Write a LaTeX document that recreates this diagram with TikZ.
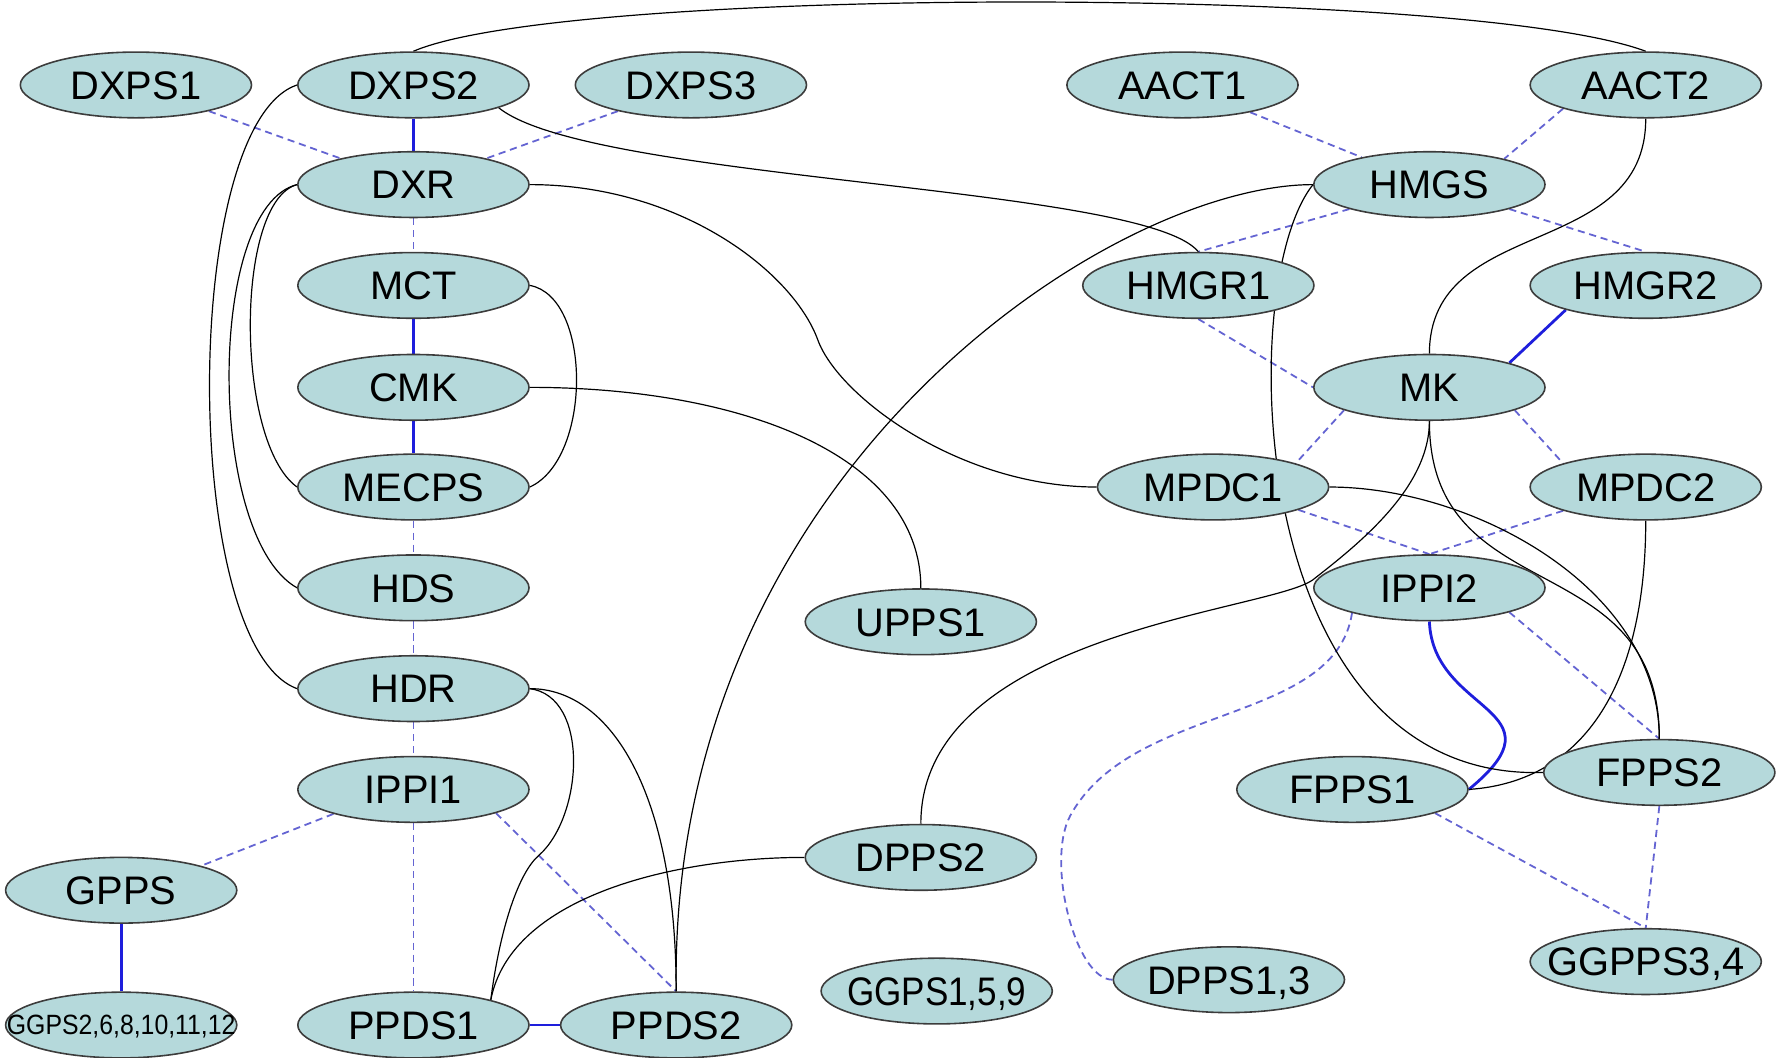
\documentclass[tikz,border=0pt]{standalone}
\usepackage{fontspec}
\setmainfont{Liberation Sans}
\usepackage{graphicx}
\usepackage{tikz}
\usetikzlibrary{shapes.geometric,backgrounds}
\definecolor{genefill}{HTML}{B5D9DB}
\definecolor{generim}{HTML}{3C3C3C}
\definecolor{solidblue}{HTML}{1E1EDC}
\definecolor{dashblue}{HTML}{6464D2}
\tikzset{
  gene/.style={ellipse, draw=generim, fill=genefill, line width=0.4pt,
    minimum width=2.04cm, minimum height=0.58cm, inner xsep=-1cm, inner ysep=0pt,
    text height=7.2pt, text depth=0pt, font=\fontsize{10}{12}\selectfont},
  bluelink/.style={draw=solidblue, line width=0.7pt},
  dashlink/.style={draw=dashblue, line width=0.45pt, dash pattern=on 1.8pt off 1.2pt},
  blacklink/.style={draw=black, line width=0.3pt}
}

\begin{document}
\begin{tikzpicture}[x=0.01cm, y=-0.01cm]
  \useasboundingbox (0,0) rectangle (1568,934);

  % genes
  \foreach \id/\x/\y in {DXPS1/120/75, DXPS2/365/75, DXPS3/610/75, AACT1/1044/75, AACT2/1453/75,
    DXR/365/163, HMGS/1262/163, MCT/365/252, HMGR1/1058/252, HMGR2/1453/252,
    CMK/365/342, MK/1262/342, MECPS/365/430, MPDC1/1071/430, MPDC2/1453/430,
    HDS/365/519, UPPS1/813/549, IPPI2/1262/519, HDR/365/608, IPPI1/365/697,
    FPPS1/1194/697, FPPS2/1465/682, GPPS/107/786, DPPS2/813/757,
    PPDS1/365/905, PPDS2/597/905}{
    \node[gene] (\id) at (\x,\y) {\id};
  }
  \node[gene] (GGPS159) at (827,875) {\scalebox{0.88}[1]{GGPS1,5,9}};
  \node[gene] (DPPS13) at (1085,865) {DPPS1,3};
  \node[gene] (GGPPS34) at (1453,849) {GGPPS3,4};
  \node[gene, text height=5pt, font=\fontsize{7}{8}\selectfont] (GGPSmulti) at (107,905)
    {\scalebox{0.89}[1]{GGPS2,6,8,10,11,12}};

  \begin{scope}[on background layer]
  % blue links
  \draw[bluelink] (DXPS2) -- (DXR);
  \draw[bluelink] (MCT) -- (CMK);
  \draw[bluelink] (CMK) -- (MECPS);
  \draw[bluelink] (HMGR2.-163) -- (MK.17);
  \draw[bluelink] (GPPS) -- (GGPSmulti);
  \draw[bluelink] (PPDS1) -- (PPDS2);
  \draw[bluelink] (IPPI2.south) .. controls +(3,82) and +(88,-72) .. (FPPS1.east);

  % dashed links
  \draw[dashlink] (DXPS1) -- (DXR);
  \draw[dashlink] (DXPS3) -- (DXR);
  \draw[dashlink] (DXR) -- (MCT);
  \draw[dashlink] (MECPS) -- (HDS);
  \draw[dashlink] (HDS) -- (HDR);
  \draw[dashlink] (HDR) -- (IPPI1);
  \draw[dashlink] (IPPI1) -- (PPDS1);
  \draw[dashlink] (IPPI1.-163) -- (GPPS.17);
  \draw[dashlink] (IPPI1.-16) -- (PPDS2.north);
  \draw[dashlink] (AACT1) -- (HMGS);
  \draw[dashlink] (AACT2.-164) -- (HMGS.19);
  \draw[dashlink] (HMGS.-163) -- (HMGR1.north);
  \draw[dashlink] (HMGS.-17) -- (HMGR2.north);
  \draw[dashlink] (HMGR1.south) -- (MK.west);
  \draw[dashlink] (MK.-165) -- (MPDC1.16);
  \draw[dashlink] (MK.-15) -- (MPDC2.164);
  \draw[dashlink] (MPDC1.-15) -- (IPPI2.north);
  \draw[dashlink] (MPDC2.-164) -- (IPPI2.north);
  \draw[dashlink] (IPPI2.-17) -- (FPPS2.north);
  \draw[dashlink] (FPPS1.-16) -- (GGPPS34.north);
  \draw[dashlink] (FPPS2.south) -- (GGPPS34.north);
  \draw[dashlink] (IPPI2.-162) .. controls +(-15,99) and +(55,-100) .. (945,720)
    .. controls +(-22,40) and +(-33,0) .. (DPPS13.west);

  % black links
  \draw[blacklink] (DXPS2.north) .. controls +(135,-58) and +(-155,-58) .. (AACT2.north);
  \draw[blacklink] (DXPS2.west) .. controls +(-103,35) and +(-103,-38) .. (HDR.west);
  \draw[blacklink] (DXR.west) .. controls +(-55,15) and +(-55,-40) .. (MECPS.west);
  \draw[blacklink] (DXR.west) .. controls +(-80,20) and +(-80,-45) .. (HDS.west);
  \draw[blacklink] (MCT.east) .. controls +(55,10) and +(55,-25) .. (MECPS.east);
  \draw[blacklink] (CMK.east) .. controls +(183,0) and +(0,-119) .. (UPPS1.north);
  \draw[blacklink] (DXR.east) .. controls +(133,0) and +(-22,-60) .. (722,300)
    .. controls +(18,50) and +(-121,0) .. (MPDC1.west);
  \draw[blacklink] (DXPS2.-15) .. controls +(81,65) and +(-48,-59) .. (HMGR1.north);
  \draw[blacklink] (HMGS.west) .. controls +(-180,0) and +(-7,-456) .. (PPDS2.north);
  \draw[blacklink] (HMGS.west) .. controls +(-70,87) and +(-263,8) .. (FPPS2.west);
  \draw[blacklink] (AACT2.south) .. controls +(0,126) and +(0,-123) .. (MK.north);
  \draw[blacklink] (MK.south) .. controls +(0,59) and +(41,-32) .. (1159,512)
    .. controls +(-39,28) and +(0,-168) .. (DPPS2.north);
  \draw[blacklink] (MK.south) .. controls +(0,169) and +(0,-173) .. (FPPS2.north);
  \draw[blacklink] (MPDC1.east) .. controls +(127,0) and +(0,-133) .. (FPPS2.north);
  \draw[blacklink] (MPDC2.south) .. controls +(0,141) and +(104,-7) .. (FPPS1.east);
  \draw[blacklink] (HDR.east) .. controls +(53,7) and +(39,-35) .. (476,755)
    .. controls +(-18,15) and +(8,-63) .. (PPDS1.18);
  \draw[blacklink] (HDR.east) .. controls +(72,0) and +(0,-174) .. (PPDS2.north);
  \draw[blacklink] (DPPS2.west) .. controls +(-111,0) and +(18,-93) .. (PPDS1.18);
  \end{scope}
\end{tikzpicture}
\end{document}
